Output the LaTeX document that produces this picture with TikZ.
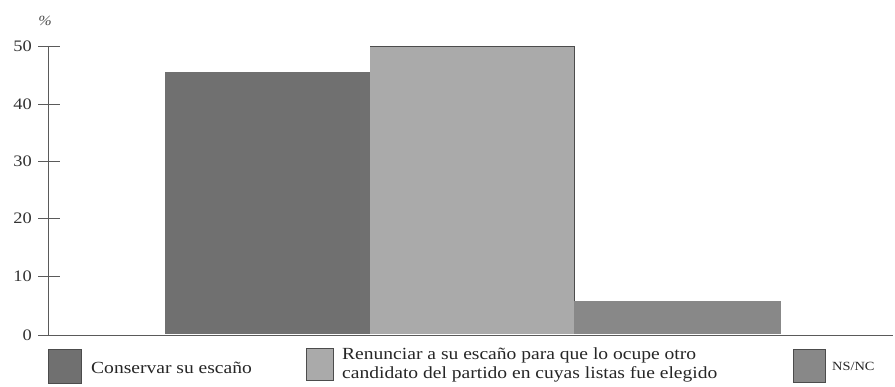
\documentclass[tikz,border=0pt]{standalone}
\usepackage{fontspec}
\setmainfont[FakeStretch=1.15]{Liberation Serif}
\definecolor{barA}{RGB}{112,112,112}
\definecolor{barB}{RGB}{170,170,170}
\definecolor{barC}{RGB}{136,136,136}
\definecolor{axisgray}{RGB}{90,90,90}
\begin{document}
\begin{tikzpicture}[x=1pt,y=-1pt,
  bar/.style={draw=none},
  ticklab/.style={anchor=east,inner sep=0pt,font=\fontsize{16}{16}\selectfont,text=black!80},
  legbox/.style={draw=black!70,line width=0.6pt},
  legtext/.style={anchor=west,inner sep=0pt,font=\fontsize{17}{18.5}\selectfont,text=black!85,align=left},
  axisline/.style={draw=axisgray,line width=0.8pt}]
\useasboundingbox (0,0) rectangle (895,387);
% bars
\fill[barA] (165,72) rectangle (370,334);
\fill[barB] (370,46) rectangle (574,334);
\draw[black!70,line width=0.6pt] (370,46) -- (574,46) -- (574,334);
\fill[barC] (574,301) rectangle (781,334);
% axes
\coordinate (ytop) at (48,46);
\coordinate (ybot) at (48,335);
\coordinate (xl) at (38,335);
\coordinate (xr) at (893,335);
\draw[axisline] (ytop) -- (ybot);
\draw[axisline] (xl) -- (xr);
\foreach \v/\yy in {50/46,40/104,30/161,20/218,10/276,0/335}{
  \draw[axisline] (38,\yy) -- (60,\yy);
  \node[ticklab] (t\v) at (32,\yy) {\v};
}
\node[inner sep=0pt,font=\itshape\fontsize{14}{14}\selectfont,text=black!70] (pct) at (45,21) {\%};
% legend
\node[legbox,fill=barA,minimum width=33pt,minimum height=34pt,inner sep=0pt] (l1) at (65,366) {};
\node[legtext] (lt1) at (91,368) {Conservar su escaño};
\node[legbox,fill=barB,minimum width=27pt,minimum height=32pt,inner sep=0pt] (l2) at (319.5,364) {};
\node[legtext] (lt2) at (342,365) {Renunciar a su escaño para que lo ocupe otro\\candidato del partido en cuyas listas fue elegido};
\node[legbox,fill=barC,minimum width=32pt,minimum height=33pt,inner sep=0pt] (l3) at (809,365.5) {};
\node[legtext,font=\fontsize{12.5}{12.5}\selectfont] (lt3) at (832,366) {NS/NC};
\end{tikzpicture}
\end{document}
